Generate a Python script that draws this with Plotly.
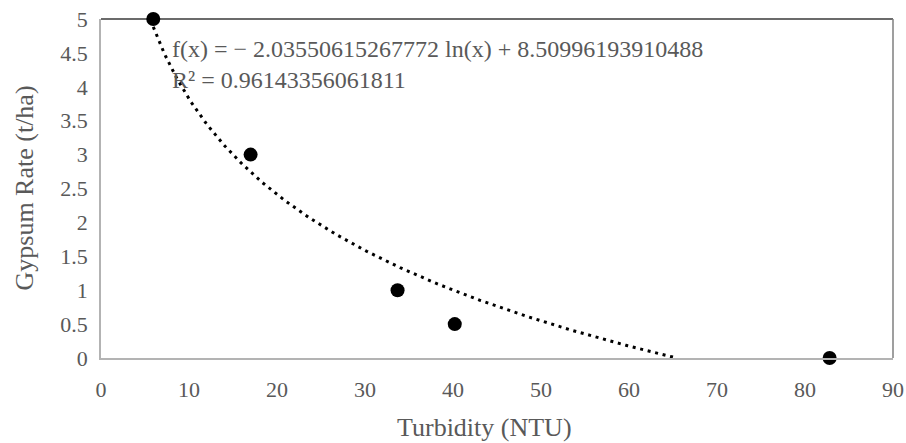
import numpy as np
import plotly.graph_objects as go

# Data
turbidity = [5.94, 17.0, 33.7, 40.2, 82.8]
gypsum_rate = [5.0, 3.0, 1.0, 0.5, 0.0]

# Logarithmic trendline coefficients (as displayed)
coef_a = -2.03550615267772
coef_b = 8.50996193910488
r_squared = 0.96143356061811

x_ticks = [0, 10, 20, 30, 40, 50, 60, 70, 80, 90]
y_ticks = [0, 0.5, 1, 1.5, 2, 2.5, 3, 3.5, 4, 4.5, 5]
y_tick_labels = ["0", "0.5", "1", "1.5", "2", "2.5", "3", "3.5", "4", "4.5", "5"]

FONT = "Liberation Serif, Times New Roman, serif"
GREY_TXT = "#595959"

W, H = 906, 443
ML, MR, MT, MB = 101, 13, 19, 85
PW, PH = W - ML - MR, H - MT - MB

# trendline drawn from the fitted model, clipped at y = 0
x_root = float(np.exp(-coef_b / coef_a))
x_trend = np.linspace(min(turbidity), x_root, 300)
y_trend = coef_a * np.log(x_trend) + coef_b

fig = go.Figure()
fig.add_trace(go.Scatter(
    x=x_trend, y=y_trend, mode="lines",
    line=dict(color="black", width=3, dash="3px,4.7px"),
    hoverinfo="skip", showlegend=False, cliponaxis=False,
))
fig.add_trace(go.Scatter(
    x=turbidity, y=gypsum_rate, mode="markers",
    marker=dict(color="black", size=14, line=dict(width=0)),
    showlegend=False, cliponaxis=False,
))

eq_text = (f"f(x) = − {abs(coef_a):.14f} ln(x) + {coef_b:.14f}<br>"
           f"R² = {r_squared:.14f}")

fig.update_layout(
    width=W, height=H,
    margin=dict(l=ML, r=MR, t=MT, b=MB, pad=0, autoexpand=False),
    paper_bgcolor="white", plot_bgcolor="white",
    font=dict(family=FONT, size=22, color=GREY_TXT),
    xaxis=dict(
        range=[0, 90], tickvals=x_ticks, showgrid=False, zeroline=False,
        showline=True, linecolor="#b3b3b3", linewidth=1.5, ticks="",
        ticklabelstandoff=11, ticklabeloverflow="allow", automargin=False,
        tickfont=dict(family=FONT, size=22, color=GREY_TXT),
    ),
    yaxis=dict(
        range=[0, 5], tickvals=y_ticks, ticktext=y_tick_labels,
        showgrid=False, zeroline=False,
        showline=True, linecolor="#b3b3b3", linewidth=1.5, ticks="",
        ticklabelstandoff=7, ticklabeloverflow="allow", automargin=False,
        tickfont=dict(family=FONT, size=22, color=GREY_TXT),
    ),
    shapes=[
        dict(type="line", xref="paper", yref="paper", x0=0, x1=1, y0=1, y1=1,
             line=dict(color="#3a3a3a", width=1.5), layer="below"),
        dict(type="line", xref="paper", yref="paper", x0=1, x1=1, y0=0, y1=1,
             line=dict(color="#7f7f7f", width=1.5), layer="below"),
    ],
    annotations=[
        dict(text=eq_text, xref="x", yref="y", x=7.8, y=4.33,
             xanchor="left", yanchor="middle", align="left", showarrow=False,
             font=dict(family=FONT, size=24, color=GREY_TXT)),
        dict(text="Turbidity (NTU)", xref="paper", yref="paper",
             x=(484 - ML) / PW, y=-(427 - (MT + PH)) / PH,
             xanchor="center", yanchor="middle", showarrow=False,
             font=dict(family=FONT, size=26, color=GREY_TXT)),
        dict(text="Gypsum Rate (t/ha)", xref="paper", yref="paper",
             x=-(ML - 24) / PW, y=0.5, textangle=-90,
             xanchor="center", yanchor="middle", showarrow=False,
             font=dict(family=FONT, size=26, color=GREY_TXT)),
    ],
)

fig.write_html(
    "out.html",
    config={"displayModeBar": False},
    post_script="document.body.style.margin='0';document.body.style.overflow='hidden';",
)
